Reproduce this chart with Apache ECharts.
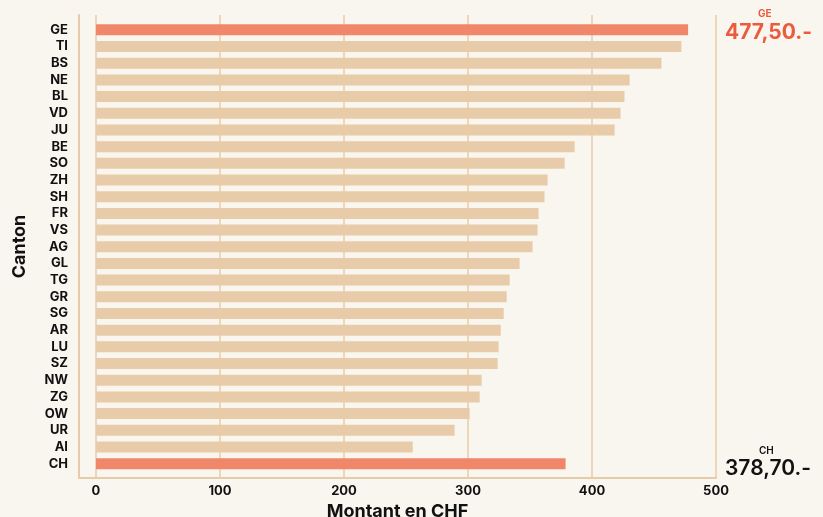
<!DOCTYPE html>
<html>
<head>
<meta charset="utf-8">
<script src="https://cdn.jsdelivr.net/npm/echarts@6/dist/echarts.min.js"></script>
<style>
  html, body { margin: 0; padding: 0; background: #f9f6ef; }
  #chart { width: 823px; height: 517px; }
</style>
</head>
<body>
<div id="chart"></div>
<script>
// montant par canton (CHF), trié
const cantons = ['GE', 'TI', 'BS', 'NE', 'BL', 'VD', 'JU', 'BE', 'SO', 'ZH', 'SH', 'FR', 'VS',
  'AG', 'GL', 'TG', 'GR', 'SG', 'AR', 'LU', 'SZ', 'NW', 'ZG', 'OW', 'UR', 'AI', 'CH']
const montants = [477.5, 472.1, 456.0, 430.3, 426.2, 423.0, 418.2, 386.0, 377.9, 364.2, 361.7, 356.9, 356.1,
  352.1, 341.6, 333.6, 331.2, 328.8, 326.4, 324.7, 323.9, 311.0, 309.4, 301.3, 289.2, 255.4, 378.7]
const highlight = ['GE', 'CH']
const xTicks = [0, 100, 200, 300, 400, 500]

const font = 'Inter, "Liberation Sans", sans-serif'
const beige = '#e8cba8'
const orange = '#f0876a'

function fmt(v) {
  return v.toFixed(2).replace('.', ',') + '.-'
}
let geVal = montants[cantons.indexOf('GE')]
let chVal = montants[cantons.indexOf('CH')]

let myChart = echarts.init(document.getElementById('chart'))
myChart.setOption({
  backgroundColor: '#f9f6ef',
  animation: false,
  grid: [
    { left: 79, right: 107, top: 15, bottom: 39, outerBoundsMode: 'none' },
    { left: 79, right: 107, top: 21.5, bottom: 45, outerBoundsMode: 'none' }
  ],
  xAxis: [
    {
      gridIndex: 0,
      type: 'value',
      min: -13.7,
      max: 500,
      axisLine: { show: true, onZero: false, lineStyle: { color: beige, width: 2 } },
      axisTick: { show: false, customValues: xTicks },
      axisLabel: {
        customValues: xTicks,
        fontFamily: font, fontWeight: 'bold', fontSize: 13, color: '#111', margin: 7
      },
      splitLine: { show: true, lineStyle: { color: beige, width: 1.5 } },
      name: 'Montant en CHF',
      nameLocation: 'middle',
      nameGap: 23,
      nameTextStyle: { fontFamily: font, fontWeight: 'bold', fontSize: 18, color: '#111' }
    },
    { gridIndex: 1, type: 'value', min: -13.7, max: 500, show: false }
  ],
  yAxis: [
    {
      gridIndex: 0,
      type: 'value',
      min: 0, max: 1,
      axisLine: { show: true, onZero: false, lineStyle: { color: beige, width: 2 } },
      axisTick: { show: false },
      axisLabel: { show: false },
      splitLine: { show: false },
      name: 'Canton',
      nameLocation: 'middle',
      nameGap: 50,
      nameTextStyle: { fontFamily: font, fontWeight: 'bold', fontSize: 18, color: '#111' }
    },
    {
      gridIndex: 1,
      type: 'category',
      inverse: true,
      data: cantons,
      axisLine: { show: false },
      axisTick: { show: false },
      axisLabel: { interval: 0, fontFamily: font, fontWeight: 'bold', fontSize: 13, color: '#111', margin: 11 }
    }
  ],
  series: [
    {
      type: 'bar',
      xAxisIndex: 1,
      yAxisIndex: 1,
      data: montants,
      barWidth: 11,
      itemStyle: {
        color: p => highlight.includes(cantons[p.dataIndex]) ? orange : beige
      }
    }
  ],
  graphic: [
    { type: 'text', left: 758, top: 9, style: { text: 'GE', font: 'bold 10px ' + font, fill: '#ec5b3e' } },
    { type: 'text', left: 725, top: 22, style: { text: fmt(geVal), font: 'bold 21px ' + font, fill: '#ec5b3e' } },
    { type: 'text', left: 759, top: 446, style: { text: 'CH', font: '600 10px ' + font, fill: '#111' } },
    { type: 'text', left: 725, top: 458, style: { text: fmt(chVal), font: '600 21px ' + font, fill: '#111' } }
  ]
})
</script>
</body>
</html>
